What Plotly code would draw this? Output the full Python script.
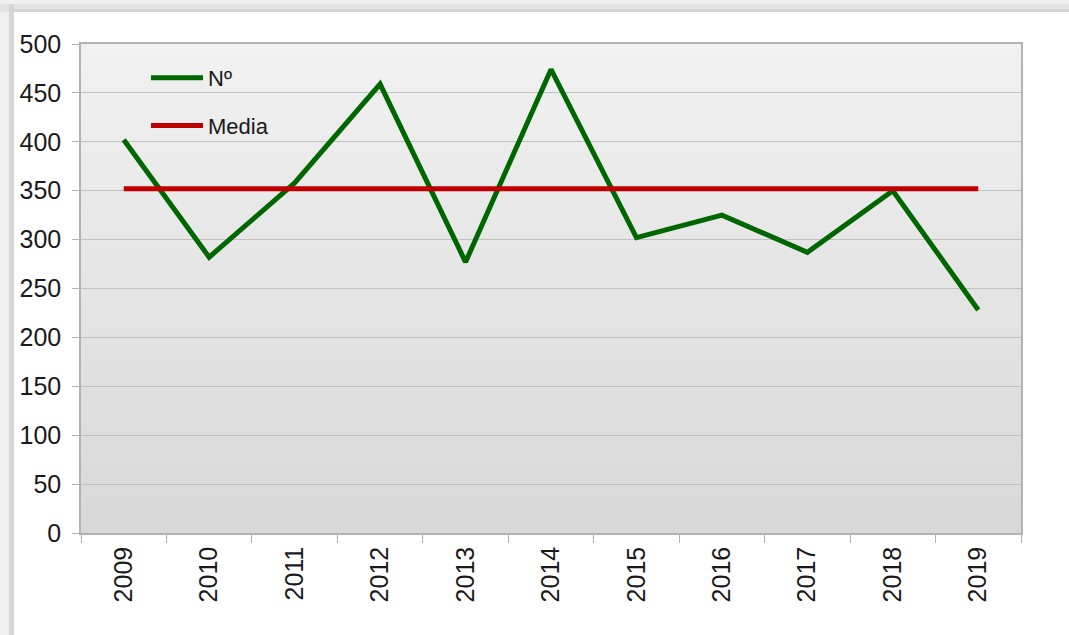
import plotly.graph_objects as go

years = ["2009", "2010", "2011", "2012", "2013", "2014", "2015", "2016", "2017", "2018", "2019"]
numero = [402, 282, 358, 459, 277, 474, 302, 325, 287, 350, 228]
media_value = 352
media = [media_value] * len(years)
y_ticks = [0, 50, 100, 150, 200, 250, 300, 350, 400, 450, 500]

W, H = 1069, 635
L, R, T, B = 81, 48, 44, 102
pw, ph = W - L - R, H - T - B

def px_x(p):
    return (p - L) / pw

def px_y(p):
    return (H - B - p) / ph

fig = go.Figure()
fig.add_trace(go.Scatter(x=years, y=numero, mode="lines", name="Nº",
                         line=dict(color="#006600", width=5), legendgroup="a"))
fig.add_trace(go.Scatter(x=years, y=media, mode="lines", name="Media",
                         line=dict(color="#c00000", width=5), legendgroup="b"))

shapes = []
# card shadow
shapes.append(dict(type="rect", xref="paper", yref="paper", x0=px_x(0), x1=px_x(W),
                   y0=px_y(0), y1=px_y(H), fillcolor="#efefef", line_width=0, layer="below"))
shapes.append(dict(type="rect", xref="paper", yref="paper", x0=px_x(0), x1=px_x(W),
                   y0=px_y(4), y1=px_y(12), fillcolor="#e4e4e4", line_width=0, layer="below"))
shapes.append(dict(type="rect", xref="paper", yref="paper", x0=px_x(9), x1=px_x(14),
                   y0=px_y(4), y1=px_y(H), fillcolor="#d6d6d6", line_width=0, layer="below"))
shapes.append(dict(type="rect", xref="paper", yref="paper", x0=px_x(9), x1=px_x(W),
                   y0=px_y(9), y1=px_y(12), fillcolor="#d4d4d4", line_width=0, layer="below"))
shapes.append(dict(type="rect", xref="paper", yref="paper", x0=px_x(14), x1=px_x(W),
                   y0=px_y(12), y1=px_y(H), fillcolor="#ffffff", line_width=0, layer="below"))
# plot-area vertical gradient
n = 60
top_c = (241, 241, 241)
bot_c = (216, 216, 216)
for i in range(n):
    t = i / (n - 1)
    c = tuple(round(top_c[k] + (bot_c[k] - top_c[k]) * t) for k in range(3))
    shapes.append(dict(type="rect", xref="paper", yref="paper", x0=0, x1=1,
                       y0=1 - (i + 1) / n, y1=1 - i / n + 0.001,
                       fillcolor="rgb(%d,%d,%d)" % c, line_width=0, layer="below"))

fig.update_layout(
    width=W, height=H,
    margin=dict(l=L, r=R, t=T, b=B),
    paper_bgcolor="#ffffff",
    plot_bgcolor="rgba(0,0,0,0)",
    shapes=shapes,
    font=dict(family="Liberation Sans, Arial, sans-serif", size=22, color="#1a1a1a"),
    showlegend=True,
    legend=dict(x=px_x(146), y=px_y(57), xanchor="left", yanchor="top",
                bgcolor="rgba(0,0,0,0)", font=dict(size=22, color="#1a1a1a"),
                itemwidth=52, tracegroupgap=16),
)
fig.update_xaxes(
    type="category", range=[-0.5, len(years) - 0.5], tickangle=-90, tickson="boundaries",
    ticks="outside", ticklen=8,
    tickcolor="#b3b3b3", showgrid=False, showline=True, linecolor="#b3b3b3", linewidth=1.5,
    mirror=True, tickfont=dict(size=25), ticklabelstandoff=2,
)
fig.update_yaxes(
    range=[0, 500], tickvals=y_ticks, ticks="outside", ticklen=7, tickcolor="#b3b3b3",
    showgrid=True, gridcolor="#c0c0c0", gridwidth=1.3, showline=True, linecolor="#b3b3b3",
    linewidth=1.5, mirror=True, zeroline=False, tickfont=dict(size=25), ticklabelstandoff=6,
)

fig.write_html("out.html", config={"displayModeBar": False},
               post_script="document.body.style.margin='0';")
